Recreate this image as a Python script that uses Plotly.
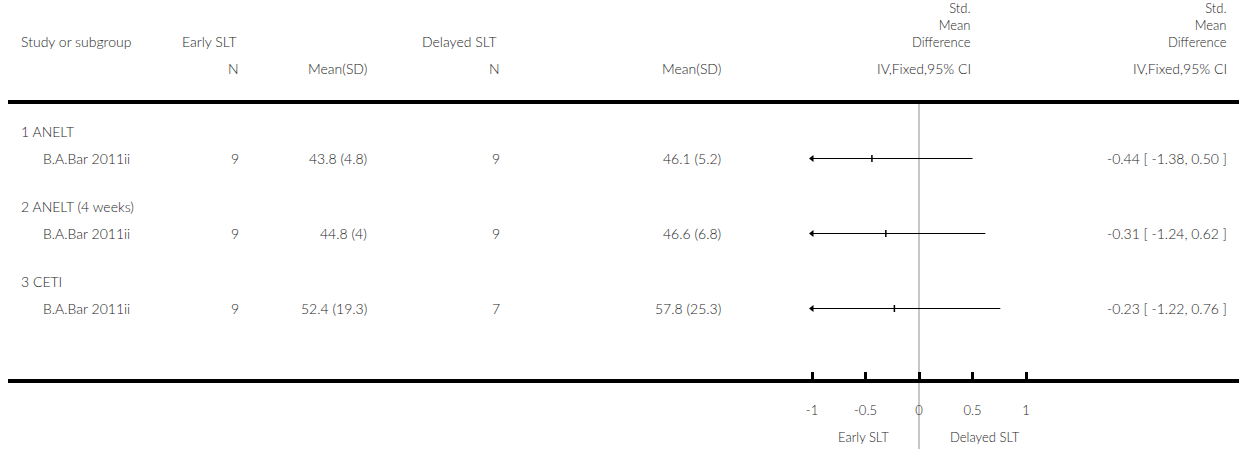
import plotly.graph_objects as go

# ---------------- data ----------------
subgroups = ["1 ANELT", "2 ANELT (4 weeks)", "3 CETI"]
studies = ["B.A.Bar 2011ii", "B.A.Bar 2011ii", "B.A.Bar 2011ii"]
n_early = [9, 9, 9]
mean_early = [43.8, 44.8, 52.4]
sd_early = [4.8, 4, 19.3]
n_delayed = [9, 9, 7]
mean_delayed = [46.1, 46.6, 57.8]
sd_delayed = [5.2, 6.8, 25.3]
smd = [-0.44, -0.31, -0.23]
ci_low = [-1.38, -1.24, -1.22]
ci_high = [0.50, 0.62, 0.76]
tick_vals = [-1, -0.5, 0, 0.5, 1]
tick_text = ["-1", "-0.5", "0", "0.5", "1"]
favours = ["Early SLT", "Delayed SLT"]
group_names = ["Early SLT", "Delayed SLT"]
effect_header = ["Std.", "Mean", "Difference"]

# ---------------- layout constants (pixels) ----------------
W, H = 1239, 449
ZERO_PX, UNIT_PX = 919, 107
LEFT_PX = 8
AXIS_MIN, AXIS_MAX = -1, 1
FONT = "Lato"
TXT = "#262626"
FS = 14
PAD = 3

sub_y = [131, 206, 281]
row_y = [158.5, 233.5, 308.5]
HEADER_LINE_Y = 102
AXIS_LINE_Y = 381

def px(x):
    return x / W

fig = go.Figure()

# CI lines, point estimates, arrows
for i in range(len(smd)):
    lo = max(ci_low[i], AXIS_MIN)
    hi = min(ci_high[i], AXIS_MAX)
    fig.add_trace(go.Scatter(x=[lo, hi], y=[row_y[i], row_y[i]], mode="lines",
                             line=dict(color="black", width=1.2), hoverinfo="skip",
                             showlegend=False))
    fig.add_trace(go.Scatter(x=[smd[i]], y=[row_y[i]], mode="markers",
                             marker=dict(symbol="line-ns", size=5,
                                         line=dict(color="black", width=1.5)),
                             showlegend=False))
    if ci_low[i] < AXIS_MIN:
        fig.add_trace(go.Scatter(x=[AXIS_MIN], y=[row_y[i]], mode="markers",
                                 marker=dict(symbol="triangle-left", size=6, color="black"),
                                 showlegend=False, hoverinfo="skip"))
    if ci_high[i] > AXIS_MAX:
        fig.add_trace(go.Scatter(x=[AXIS_MAX], y=[row_y[i]], mode="markers",
                                 marker=dict(symbol="triangle-right", size=6, color="black"),
                                 showlegend=False, hoverinfo="skip"))

ann = []
def text(x, y, s, anchor="left", size=FS, align="left"):
    xx = x - PAD if anchor == "left" else (x + PAD if anchor == "right" else x)
    ann.append(dict(x=px(xx), xref="paper", y=y, yref="y", text=s, showarrow=False,
                    xanchor=anchor, yanchor="middle", align=align,
                    font=dict(family=FONT, size=size, color=TXT, weight=300)))

# header
text(22, 41, "Study or subgroup")
text(183, 41, group_names[0])
text(423, 41, group_names[1])
for xr in (970, 1226):
    text(xr, 25, "<br>".join(effect_header), "right", size=13, align="right")
    text(xr, 68, "IV,Fixed,95% CI", "right")
text(238, 68, "N", "right")
text(366, 68, "Mean(SD)", "right")
text(499, 68, "N", "right")
text(720, 68, "Mean(SD)", "right")

def fmt(v):
    return f"{v:g}"

for i in range(len(smd)):
    text(22, sub_y[i], subgroups[i])
    text(44, row_y[i], studies[i])
    text(238, row_y[i], str(n_early[i]), "right")
    text(366, row_y[i], f"{fmt(mean_early[i])} ({fmt(sd_early[i])})", "right")
    text(499, row_y[i], str(n_delayed[i]), "right")
    text(720, row_y[i], f"{fmt(mean_delayed[i])} ({fmt(sd_delayed[i])})", "right")
    text(1226, row_y[i], f"{smd[i]:.2f} [ {ci_low[i]:.2f}, {ci_high[i]:.2f} ]", "right")

# favours labels
ann.append(dict(x=-0.52, xref="x", y=437, yref="y", text=favours[0], showarrow=False,
                xanchor="center", yanchor="middle",
                font=dict(family=FONT, size=13, color=TXT, weight=300)))
ann.append(dict(x=0.62, xref="x", y=437, yref="y", text=favours[1], showarrow=False,
                xanchor="center", yanchor="middle",
                font=dict(family=FONT, size=13, color=TXT, weight=300)))

shapes = [
    dict(type="line", xref="x", yref="y", x0=0, x1=0, y0=HEADER_LINE_Y, y1=H,
         line=dict(color="#b4b4b4", width=1.5), layer="below"),
    dict(type="line", xref="paper", yref="y", x0=px(LEFT_PX), x1=1, y0=HEADER_LINE_Y,
         y1=HEADER_LINE_Y, line=dict(color="black", width=4)),
]

x_range = [(LEFT_PX - ZERO_PX) / UNIT_PX, (W - ZERO_PX) / UNIT_PX]

fig.update_layout(
    width=W, height=H, margin=dict(l=0, r=0, t=0, b=0),
    paper_bgcolor="white", plot_bgcolor="white",
    showlegend=False, annotations=ann, shapes=shapes,
    font=dict(family=FONT, color=TXT),
    xaxis=dict(domain=[px(LEFT_PX), 1], range=x_range, anchor="free",
               position=(H - AXIS_LINE_Y) / H, showgrid=False, zeroline=False,
               showline=True, linecolor="black", linewidth=4,
               tickvals=tick_vals, ticktext=tick_text, ticks="inside", ticklen=7,
               tickwidth=3, tickcolor="black", ticklabelstandoff=16,
               tickfont=dict(family=FONT, size=13, color=TXT, weight=300)),
    yaxis=dict(domain=[0, 1], range=[H, 0], visible=False, showgrid=False,
               zeroline=False),
)

fig.write_html("out.html", config={"displayModeBar": False},
               post_script="document.body.style.margin='0';document.body.style.overflow='hidden';")
